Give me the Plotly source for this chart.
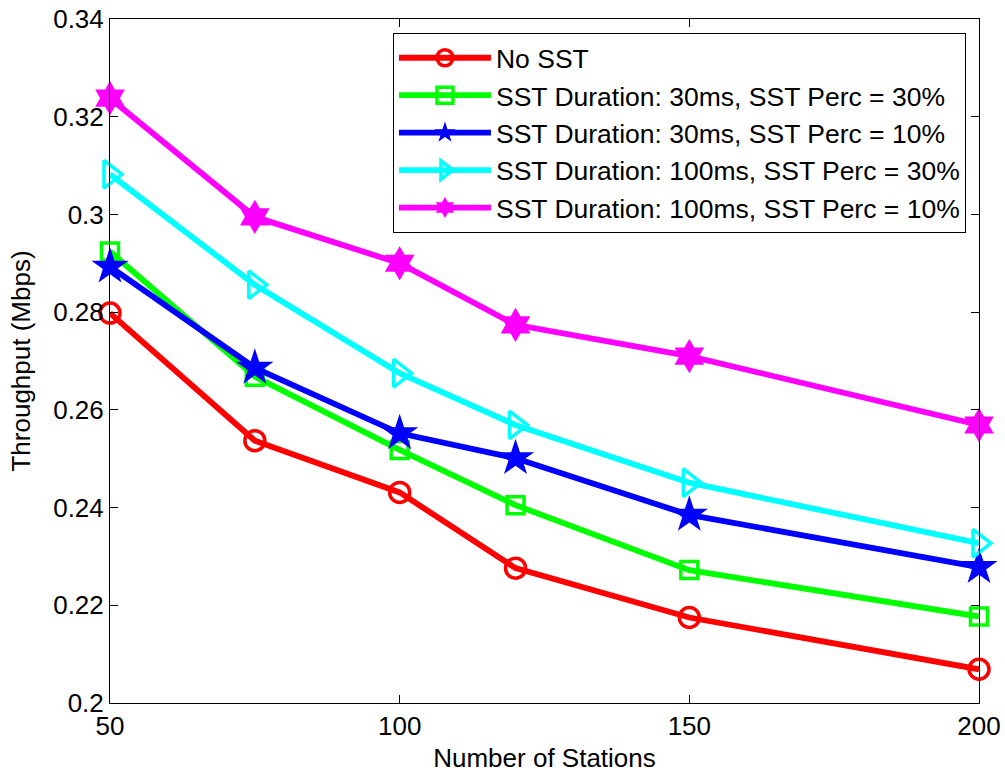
import plotly.graph_objects as go

stations = [50, 75, 100, 120, 150, 200]

no_sst = [0.2798, 0.2537, 0.2431, 0.2276, 0.2175, 0.2069]
d30_p30 = [0.2924, 0.2668, 0.2518, 0.2405, 0.2272, 0.2177]
d30_p10 = [0.2893, 0.2686, 0.2552, 0.2501, 0.2385, 0.2278]
d100_p30 = [0.3082, 0.2856, 0.2675, 0.2569, 0.2451, 0.2327]
d100_p10 = [0.3238, 0.2995, 0.2900, 0.2774, 0.2710, 0.2569]

series_names = [
    "No SST",
    "SST Duration: 30ms, SST Perc = 30%",
    "SST Duration: 30ms, SST Perc = 10%",
    "SST Duration: 100ms, SST Perc = 30%",
    "SST Duration: 100ms, SST Perc = 10%",
]

x_tickvals = [50, 100, 150, 200]
x_ticktext = ["50", "100", "150", "200"]
y_tickvals = [0.2, 0.22, 0.24, 0.26, 0.28, 0.3, 0.32, 0.34]
y_ticktext = ["0.2", "0.22", "0.24", "0.26", "0.28", "0.3", "0.32", "0.34"]

FONT = "Liberation Sans, Arial, Helvetica, sans-serif"

styles = [
    dict(color="#FF0000", symbol="circle-open", size=20, mlw=3.5),
    dict(color="#00FF00", symbol="square-open", size=17, mlw=3.5),
    dict(color="#0000FF", symbol="star", size=28, mlw=0),
    dict(color="#00FFFF", symbol="triangle-right-open", size=24, mlw=3.5),
    dict(color="#FF00FF", symbol="hexagram", size=26, mlw=0),
]

all_series = [no_sst, d30_p30, d30_p10, d100_p30, d100_p10]

fig = go.Figure()
for i, (name, vals, st) in enumerate(zip(series_names, all_series, styles)):
    fig.add_trace(go.Scatter(
        x=stations, y=vals, name=name, mode="lines+markers",
        legendgroup=f"g{i}",
        line=dict(color=st["color"], width=5.8),
        marker=dict(symbol=st["symbol"], size=st["size"], color=st["color"],
                    line=dict(color=st["color"], width=st["mlw"])),
        cliponaxis=False,
    ))

fig.update_layout(
    width=1005, height=773,
    margin=dict(l=110, r=26, t=19, b=70, autoexpand=False),
    paper_bgcolor="white", plot_bgcolor="white",
    font=dict(family=FONT, size=26, color="black"),
    showlegend=True,
    legend=dict(
        x=0.985, y=0.9795, xanchor="right", yanchor="top",
        bgcolor="white", bordercolor="black", borderwidth=1,
        font=dict(family=FONT, size=26.5, color="black"),
        traceorder="grouped", tracegroupgap=0, itemwidth=92,
        itemsizing="trace",
    ),
    xaxis=dict(
        range=[50, 200], tickvals=x_tickvals, ticktext=x_ticktext,
        automargin=False,
        showgrid=False, zeroline=False, showline=True, linecolor="black", linewidth=1,
        mirror="ticks", ticks="inside", ticklen=8, tickcolor="black", tickwidth=1,
        title=dict(text="Number of Stations", font=dict(size=26)),
    ),
    yaxis=dict(
        range=[0.2, 0.34], tickvals=y_tickvals, ticktext=y_ticktext,
        automargin=False,
        showgrid=False, zeroline=False, showline=True, linecolor="black", linewidth=1,
        mirror="ticks", ticks="inside", ticklen=8, tickcolor="black", tickwidth=1,
        title=dict(text="Throughput (Mbps)", font=dict(size=26)),
    ),
)

fig.write_html(
    "out.html",
    config={"displayModeBar": False},
    post_script="document.body.style.margin='0';document.body.style.overflow='hidden';",
)
